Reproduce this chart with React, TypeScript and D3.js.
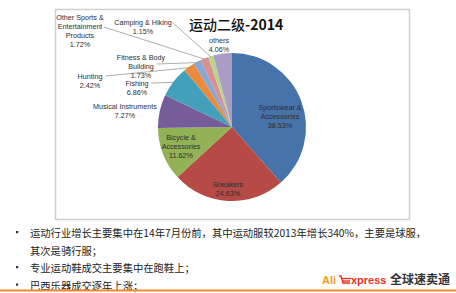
import React from "react";
import * as d3 from "d3";

const categories = [
  "Sportswear & Accessories",
  "Sneakers",
  "Bicycle & Accessories",
  "Musical Instruments",
  "Fishing",
  "Hunting",
  "Fitness & Body Building",
  "Other Sports & Entertainment Products",
  "Camping & Hiking",
  "others",
];
const values = [38.53, 24.63, 11.62, 7.27, 6.86, 2.42, 1.73, 1.72, 1.15, 4.06];
const labelLines = [
  ["Sportswear &", "Accessories"],
  ["Sneakers"],
  ["Bicycle &", "Accessories"],
  ["Musical Instruments"],
  ["Fishing"],
  ["Hunting"],
  ["Fitness & Body", "Building"],
  ["Other Sports &", "Entertainment", "Products"],
  ["Camping & Hiking"],
  ["others"],
];
const titleCn = "运动二级";
const titleYear = "-2014";
const bullets = [
  ["运动行业增长主要集中在14年7月份前，其中运动服较2013年增长340%，主要是球服，", "其次是骑行服；"],
  ["专业运动鞋成交主要集中在跑鞋上；"],
  ["巴西乐器成交逐年上涨；"],
];

const colors = ["#4673aa", "#b54a46", "#93b256", "#775c9a", "#42a0bb", "#ea8a3a", "#8ba6d4", "#d69190", "#bad48d", "#aa9cc5"];

// label layout: anchor (center x, first baseline y), optional leader start
const labelPos: { x: number; y: number; lead?: [number, number] }[] = [
  { x: 280, y: 110 },
  { x: 228, y: 187 },
  { x: 181, y: 140 },
  { x: 125, y: 109 },
  { x: 137, y: 86, lead: [151, 83] },
  { x: 90, y: 79, lead: [106, 76] },
  { x: 141, y: 60, lead: [157, 64] },
  { x: 80, y: 20, lead: [104, 27] },
  { x: 143, y: 25, lead: [172, 22] },
  { x: 219, y: 43 },
];

export default function App() {
  const cx = 232, cy = 127, r = 74;
  const pie = d3.pie<number>().sort(null).value((d) => d).startAngle(0).endAngle(2 * Math.PI);
  const arcs = pie(values);
  const arc = d3.arc<d3.PieArcDatum<number>>().innerRadius(0).outerRadius(r);
  const labelFont = "'Liberation Sans', Arial, sans-serif";
  const cjk = "'Noto Sans CJK SC', sans-serif";
  return (
    <svg width={456} height={293} style={{ position: "absolute", left: 0, top: 0, background: "#fff" }}>
      <rect x={55.5} y={9.5} width={354} height={210} fill="#fff" stroke="#cfcfcf" strokeWidth={1.5} />
      <text x={189} y={30} fontFamily={cjk} fontSize={14} fill="#111">
        <tspan fontWeight={500}>{titleCn}</tspan>
        <tspan fontWeight="bold">{titleYear}</tspan>
      </text>
      <g transform={`translate(${cx},${cy})`}>
        {arcs.map((a, i) => (
          <path key={i} d={arc(a) || ""} fill={colors[i]} />
        ))}
      </g>
      {arcs.map((a, i) => {
        const p = labelPos[i];
        const lines = [...labelLines[i], values[i].toFixed(2) + "%"];
        const mid = (a.startAngle + a.endAngle) / 2;
        const ex = cx + Math.sin(mid) * (r - 1);
        const ey = cy - Math.cos(mid) * (r - 1);
        return (
          <g key={categories[i]}>
            {p.lead && (
              <polyline points={`${p.lead[0]},${p.lead[1]} ${ex},${ey}`} fill="none" stroke="#8a8a8a" strokeWidth={0.7} />
            )}
            {lines.map((t, j) => (
              <text key={j} x={p.x} y={p.y + j * 9} textAnchor="middle" fontFamily={labelFont} fontSize={7.2} fill="#2e2e2e">{t}</text>
            ))}
          </g>
        );
      })}
      {(() => {
        const rows: { t: string; bullet: boolean }[] = [];
        bullets.forEach((b) => b.forEach((t, j) => rows.push({ t, bullet: j === 0 })));
        return rows.map((row, k) => (
          <g key={k}>
            {row.bullet && <rect x={16} y={231 + k * 17.5} width={2.2} height={2.2} fill="#333" />}
            <text x={30} y={237 + k * 17.5} fontFamily={cjk} fontSize={10.3} fill="#222">{row.t}</text>
          </g>
        ));
      })()}
      <g>
        <text x={322} y={284} fontFamily="'Liberation Sans', Arial, sans-serif" fontWeight="bold" fontSize={11} fill="#f39a1e">Ali</text>
        <g stroke="#e8311c" strokeWidth={1.4} fill="none">
          <polyline points="339,276 341,276 343,283 350,283" />
          <line x1={341.5} y1={278.5} x2={351} y2={278.5} />
          <line x1={342.5} y1={281} x2={350} y2={281} />
        </g>
        <text x={351} y={284} fontFamily="'Liberation Sans', Arial, sans-serif" fontWeight="bold" fontSize={11} fill="#e8311c">xpress</text>
        <text x={390} y={284} fontFamily={cjk} fontWeight="bold" fontSize={12} fill="#333">全球速卖通</text>
      </g>
      <line x1={0} y1={290.5} x2={456} y2={290.5} stroke="#f08a2c" strokeWidth={2} />
    </svg>
  );
}
